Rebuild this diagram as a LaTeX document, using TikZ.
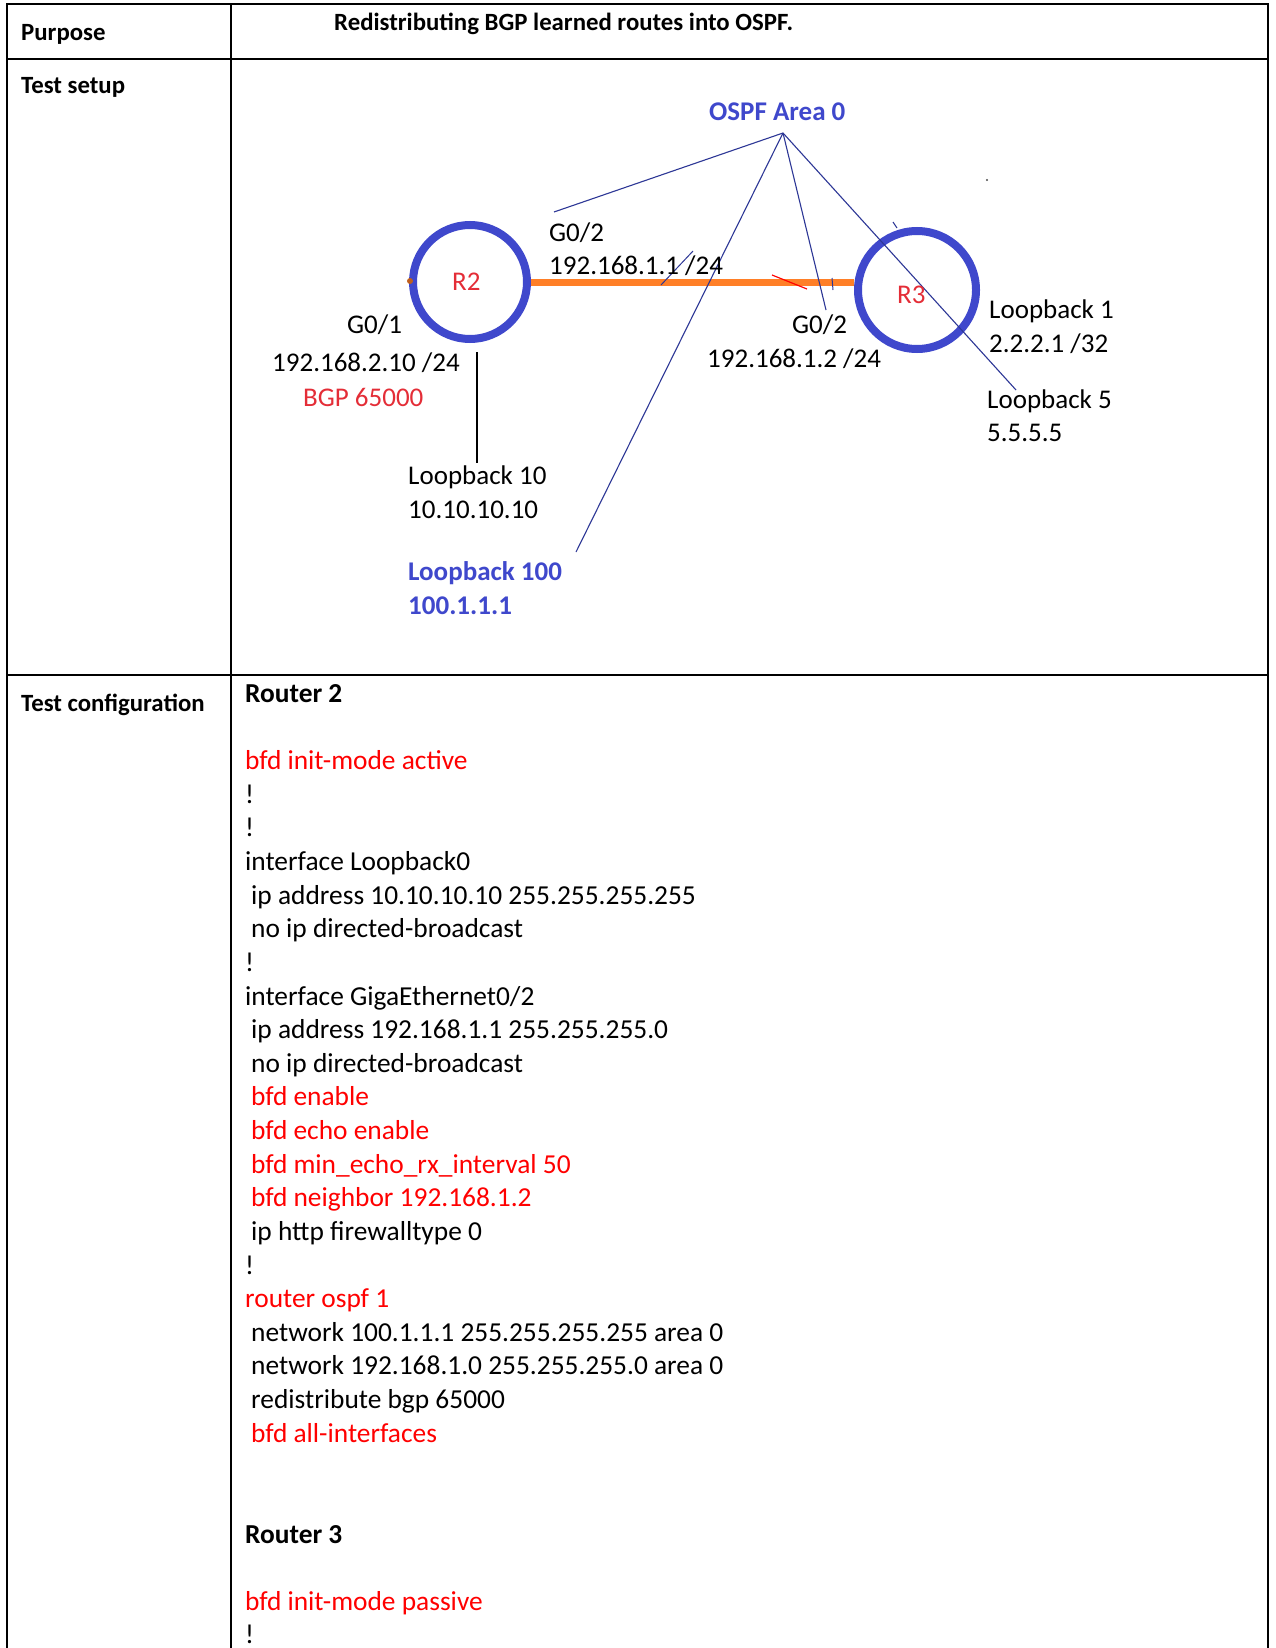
\documentclass[tikz,border=0pt]{standalone}
\usepackage{fontspec}
\setmainfont{Carlito}
\usepackage{tikz}

\definecolor{paintblue}{RGB}{63,72,204}
\definecolor{paintorange}{RGB}{255,127,39}
\definecolor{paintred}{RGB}{228,45,55}
\definecolor{wireblue}{RGB}{45,55,150}
\newcommand{\cfgfont}{\fontsize{27.4}{33.6}\selectfont}
\newcommand{\headfont}{\fontsize{24.8}{30}\selectfont}
\newcommand{\lblfont}{\fontsize{27}{32}\selectfont}

\begin{document}
\begin{tikzpicture}[x=1pt,y=-1pt,
  cfg/.style={anchor=base west,inner sep=0pt,font=\cfgfont},
  cfgred/.style={cfg,text=red},
  head/.style={anchor=base west,inner sep=0pt,font=\headfont\bfseries},
  lbl/.style={anchor=base west,inner sep=0pt,font=\lblfont},
  lblbold/.style={lbl,font=\lblfont\bfseries,text=paintblue},
  router/.style={circle,draw=paintblue,line width=8pt,inner sep=0pt},
  wire/.style={draw=wireblue,line width=1.1pt},
  tabline/.style={line width=2pt}]
\fill[white] (0,0) rectangle (1275,1648);
\useasboundingbox (0,0) rectangle (1275,1648);

% table
\draw[tabline] (7,1650) |- (1268,4.5) -- (1268,1650);
\draw[tabline] (7,59) -- (1268,59);
\draw[tabline] (7,674.5) -- (1268,674.5);
\draw[tabline] (230.5,4.5) -- (230.5,1650);
\node[head] (purpose) at (21,41) {Purpose};
\node[head] (title) at (334,31) {Redistributing BGP learned routes into OSPF.};
\node[head] (setup) at (21,94) {Test setup};
\node[head] (config) at (21,711) {Test configuration};

% routers
\node[router,minimum size=114pt] (r2) at (470,282) {};
\node[router,minimum size=118pt] (r3) at (917,290) {};
\draw[paintorange,line width=7pt] (r2.east) -- (r2.east -| r3.west);
\fill[paintorange!75!black] (410,281) circle (3);
\draw[white,line width=2.5pt] (655,287.5) -- (668,287.5);

% OSPF lines
\coordinate (apex) at (783,133);
\coordinate (g02aend) at (554,212);
\coordinate (lb100end) at (576,552);
\coordinate (g02bend) at (826,310);
\coordinate (lb5end) at (1016,390);
\draw[wire] (apex) -- (g02aend);
\draw[wire] (apex) -- (lb100end);
\draw[wire] (apex) -- (g02bend);
\draw[wire] (apex) -- (lb5end);
\coordinate (lb10a) at (477,352);
\coordinate (lb10b) at (477,463);
\draw[black,line width=1.5pt] (lb10a) -- (lb10b);
\draw[red,line width=1.2pt] (772,275) -- (807,289);
\draw[wireblue,line width=1pt] (661,285) -- (693,251);
\draw[wireblue,line width=1pt] (832,278) -- (833,290);
\draw[wireblue,line width=1pt] (893,222) -- (897,228);
\fill[black!70] (987,180) circle (1.2);

% labels
\node[lblbold] (ospf) at (709,121) {OSPF Area 0};
\node[lbl,text=paintred] (r2lbl) at (452,290) {R2};
\node[lbl,text=paintred] (r3lbl) at (897,303) {R3};
\node[lbl] (g02a) at (549,241) {G0/2};
\node[lbl] (ip11) at (549,274) {192.168.1.1 /24};
\node[lbl] (g01) at (347,333) {G0/1};
\node[lbl] (ip210) at (272,371) {192.168.2.10 /24};
\node[lbl,text=paintred] (bgp) at (303,406) {BGP 65000};
\node[lbl] (lb10) at (408,484) {Loopback 10};
\node[lbl] (lb10ip) at (408,518) {10.10.10.10};
\node[lblbold] (lb100) at (408,580) {Loopback 100};
\node[lblbold] (lb100ip) at (408,614) {100.1.1.1};
\node[lbl] (g02b) at (792,333) {G0/2};
\node[lbl] (ip12) at (707,367) {192.168.1.2 /24};
\node[lbl] (lb1) at (989,318) {Loopback 1};
\node[lbl] (lb1ip) at (989,352) {2.2.2.1 /32};
\node[lbl] (lb5) at (987,408) {Loopback 5};
\node[lbl] (lb5ip) at (987,441) {5.5.5.5};

% router 2 config
\node[cfg,font=\cfgfont\bfseries] (r2head) at (245,702.3) {Router 2};
\node[cfgred] (r2c2) at (245,769.6) {bfd init-mode active};
\node[cfg] (r2c3) at (245,803.2) {!};
\node[cfg] (r2c4) at (245,836.8) {!};
\node[cfg] (r2c5) at (245,870.5) {interface Loopback0};
\node[cfg] (r2c6) at (251,904.1) {ip address 10.10.10.10 255.255.255.255};
\node[cfg] (r2c7) at (251,937.7) {no ip directed-broadcast};
\node[cfg] (r2c8) at (245,971.3) {!};
\node[cfg] (r2c9) at (245,1005.0) {interface GigaEthernet0/2};
\node[cfg] (r2c10) at (251,1038.6) {ip address 192.168.1.1 255.255.255.0};
\node[cfg] (r2c11) at (251,1072.2) {no ip directed-broadcast};
\node[cfgred] (r2c12) at (251,1105.9) {bfd enable};
\node[cfgred] (r2c13) at (251,1139.5) {bfd echo enable};
\node[cfgred] (r2c14) at (251,1173.1) {bfd min\_echo\_rx\_interval 50};
\node[cfgred] (r2c15) at (251,1206.8) {bfd neighbor 192.168.1.2};
\node[cfg] (r2c16) at (251,1240.4) {ip http firewalltype 0};
\node[cfg] (r2c17) at (245,1274.0) {!};
\node[cfgred] (r2c18) at (245,1307.6) {router ospf 1};
\node[cfg] (r2c19) at (251,1341.3) {network 100.1.1.1 255.255.255.255 area 0};
\node[cfg] (r2c20) at (251,1374.9) {network 192.168.1.0 255.255.255.0 area 0};
\node[cfg] (r2c21) at (251,1408.5) {redistribute bgp 65000};
\node[cfgred] (r2c22) at (251,1442.2) {bfd all-interfaces};

% router 3 config
\node[cfg,font=\cfgfont\bfseries] (r3head) at (245,1543.1) {Router 3};
\node[cfgred] (r3c2) at (245,1610.3) {bfd init-mode passive};
\node[cfg] (r3c3) at (245,1643.9) {!};
\end{tikzpicture}
\end{document}
